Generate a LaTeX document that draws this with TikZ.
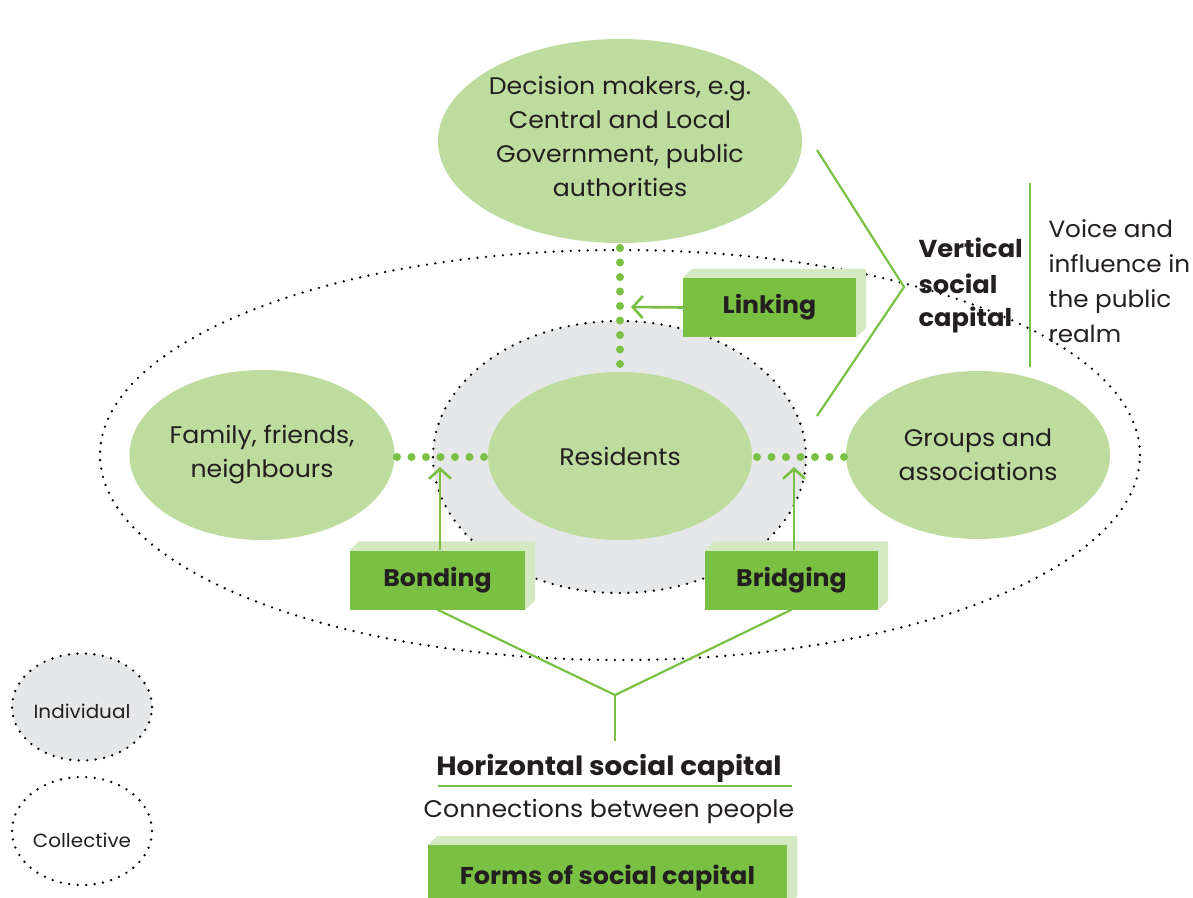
\documentclass[tikz,border=0pt]{standalone}
\usepackage{fontspec}
\setmainfont{Poppins}[FakeStretch=1.05]
\usetikzlibrary{shapes.geometric,arrows.meta,calc}
\definecolor{dgreen}{HTML}{7AC143}
\definecolor{lgreen}{HTML}{BDDC9E}
\definecolor{sgreen}{HTML}{D4E8C2}
\definecolor{igrey}{HTML}{E6E7E8}
\definecolor{txt}{HTML}{231F20}
\tikzset{
  x=1pt,y=-1pt,
  every node/.style={text=txt},
  blob/.style={ellipse,fill=lgreen,inner sep=0pt,align=center,font=\fontsize{24}{34}\selectfont},
  ring/.style={ellipse,draw=black,line width=2.6pt,dash pattern=on 0pt off 8.5pt,line cap=round,inner sep=0pt},
  gdots/.style={dgreen,line width=8pt,dash pattern=on 0pt off 14.5pt,line cap=round},
  gline/.style={dgreen,line width=2.2pt},
  garrow/.style={dgreen,line width=2.6pt,-{Straight Barb[length=10pt,width=22pt,line width=2.6pt]}},
  formbox/.style={fill=dgreen,inner sep=0pt,font=\fontsize{24}{28}\selectfont\bfseries},
}
\newcommand{\boxshade}[1]{\fill[sgreen] (#1.north west) -- ++(9,-9) -- ($(#1.north east)+(10,-9)$) -- ($(#1.south east)+(10,-9)$) -- (#1.south east) -- cycle;}
\begin{document}
\begin{tikzpicture}
\useasboundingbox (0,0) rectangle (1193,897);
\fill[white] (0,0) rectangle (1193,897);
% collective and individual rings
\node[ring,minimum width=1040pt,minimum height=410pt] (coll) at (620,455) {};
\node[ring,fill=igrey,minimum width=373pt,minimum height=272pt] (indiv) at (619.5,457) {};
% ellipses
\node[blob,minimum width=364pt,minimum height=204pt] (dec) at (620,141) {};
\node[align=center,font=\fontsize{24}{34}\selectfont] (dectxt) at (620,136) {Decision makers, e.g.\\Central and Local\\Government, public\\authorities};
\node[blob,minimum width=264pt,minimum height=168pt] (res) at (620,456) {Residents};
\node[blob,minimum width=265pt,minimum height=170pt] (fam) at (262,455) {Family, friends,\\neighbours};
\node[blob,minimum width=264pt,minimum height=168pt] (grp) at (978,455) {Groups and\\associations};
% green dotted links
\draw[gdots] (397,457) -- (485,457);
\draw[gdots] (757,457) -- (845,457);
\draw[gdots] (620,248) -- (620,370);
% boxes
\node[formbox,minimum width=173pt,minimum height=59pt] (link) at (769.5,307.5) {};
\node[formbox,minimum width=175pt,minimum height=59pt] (bond) at (437.5,580) {};
\node[formbox,minimum width=173pt,minimum height=59pt] (brid) at (791.5,580) {};
\boxshade{link}
\boxshade{bond}
\boxshade{brid}
\node[formbox,minimum width=173pt,minimum height=59pt] at (link) {Linking};
\node[formbox,minimum width=175pt,minimum height=59pt] at (bond) {Bonding};
\node[formbox,minimum width=173pt,minimum height=59pt] at (brid) {Bridging};
% arrows
\coordinate (la) at (631,307);
\coordinate (ba) at (440,467);
\coordinate (ra) at (794,467);
\draw[garrow] (link.west) -- (la);
\draw[garrow] (bond.north -| ba) -- (ba);
\draw[garrow] (brid.north -| ra) -- (ra);
% horizontal brace
\coordinate (hj) at (615,695);
\coordinate (hb) at (615,741);
\draw[gline] (bond.south) -- (hj) -- (brid.south);
\draw[gline] (hj) -- (hb);
\node[font=\fontsize{26.5}{28}\selectfont\bfseries,anchor=base] (hsc) at (609,775) {Horizontal social capital};
\coordinate (u1) at (438,786);
\coordinate (u2) at (792,786);
\draw[gline] (u1) -- (u2);
\node[font=\fontsize{24}{28}\selectfont,anchor=base] (conn) at (609,817) {Connections between people};
% forms legend box
\node[formbox,minimum width=359pt,minimum height=60pt,anchor=north west] (forms) at (428,845) {};
\boxshade{forms}
\node[formbox,minimum width=359pt,minimum height=60pt,anchor=north west] at (428,845) {};
\node[font=\fontsize{24.3}{28}\selectfont\bfseries,anchor=base] (formstxt) at (607.5,884) {Forms of social capital};
% vertical chevron
\coordinate (c1) at (817,150);
\coordinate (c2) at (904,287);
\coordinate (c3) at (817,416);
\draw[gline] (c1) -- (c2) -- (c3);
\node[anchor=base west,font=\fontsize{24.5}{34}\selectfont\bfseries] (v1) at (915,257) {Vertical};
\node[anchor=base west,font=\fontsize{24.5}{34}\selectfont\bfseries] (v2) at (915,293) {social};
\node[anchor=base west,font=\fontsize{24.5}{34}\selectfont\bfseries] (v3) at (915,326) {capital};
\coordinate (vl1) at (1030,183);
\coordinate (vl2) at (1030,367);
\draw[gline] (vl1) -- (vl2);
\node[anchor=base west,font=\fontsize{23.5}{34}\selectfont] (w1) at (1045,237) {Voice and};
\node[anchor=base west,font=\fontsize{23.5}{34}\selectfont] (w2) at (1045,272) {influence in};
\node[anchor=base west,font=\fontsize{23.5}{34}\selectfont] (w3) at (1045,307) {the public};
\node[anchor=base west,font=\fontsize{23.5}{34}\selectfont] (w4) at (1045,342) {realm};
% legend
\node[ring,fill=igrey,minimum width=140pt,minimum height=107pt] (li) at (82,707) {};
\node[font=\fontsize{19}{22}\selectfont] (litxt) at (82,711) {Individual};
\node[ring,minimum width=140pt,minimum height=108pt] (lc) at (82,831) {};
\node[font=\fontsize{19}{22}\selectfont] (lctxt) at (82,840) {Collective};
\end{tikzpicture}
\end{document}
